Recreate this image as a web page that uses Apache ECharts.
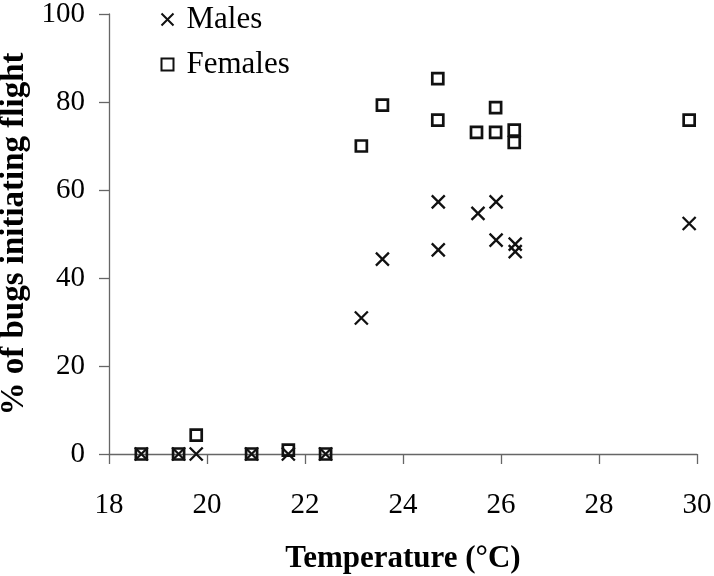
<!DOCTYPE html>
<html>
<head>
<meta charset="utf-8">
<script src="https://cdn.jsdelivr.net/npm/echarts@6/dist/echarts.min.js"></script>
<style>html,body{margin:0;padding:0;background:#fff}#c{width:714px;height:576px}</style>
</head>
<body>
<div id="c"></div>
<script>
var xTicks = [18, 20, 22, 24, 26, 28, 30];
var yTicks = [0, 20, 40, 60, 80, 100];
var maleTemp = [18.66, 19.42, 19.78, 20.91, 21.66, 22.42, 23.15, 23.58, 24.72, 24.72, 25.53, 25.9, 25.9, 26.29, 26.29, 29.84];
var malePct = [0, 0, 0, 0, 0, 0, 30.9, 44.3, 57.3, 46.4, 54.7, 57.3, 48.6, 47.7, 46.0, 52.4];
var femaleTemp = [18.66, 19.42, 19.78, 20.91, 21.66, 22.42, 23.15, 23.58, 24.71, 24.71, 25.5, 25.89, 25.89, 26.27, 26.27, 29.84];
var femalePct = [0, 0, 4.3, 0, 0.9, 0, 70, 79.3, 85.3, 75.9, 73.1, 73.1, 78.7, 73.6, 70.8, 75.9];

function pairs(xs, ys) { return xs.map(function (x, i) { return [x, ys[i]]; }); }

var FONT = 'Liberation Serif';
var CROSS = 'path://M0,0L10,10M0,10L10,0';

var chart = echarts.init(document.getElementById('c'), null, { renderer: 'canvas' });
chart.setOption({
  backgroundColor: '#ffffff',
  animation: false,
  grid: { left: 109, right: 17, top: 14, bottom: 122, containLabel: false, outerBoundsMode: 'none' },
  legend: {
    orient: 'vertical',
    left: 159,
    top: 4,
    padding: 0,
    itemGap: 14,
    itemWidth: 12,
    itemHeight: 12,
    textStyle: { fontFamily: FONT, fontSize: 31, color: '#000', padding: [0, 0, 0, 8], lineHeight: 31 },
    data: [
      { name: 'Males', icon: CROSS, itemStyle: { color: 'none', borderColor: '#111', borderWidth: 2 } },
      { name: 'Females', icon: 'rect', itemStyle: { color: 'none', borderColor: '#111', borderWidth: 2 } }
    ]
  },
  xAxis: {
    type: 'value',
    min: xTicks[0],
    max: xTicks[xTicks.length - 1],
    interval: 2,
    name: 'Temperature (°C)',
    nameLocation: 'middle',
    nameGap: 89,
    nameTextStyle: { fontFamily: FONT, fontSize: 31, fontWeight: 'bold', color: '#000' },
    axisLine: { show: true, onZero: false, lineStyle: { color: '#666', width: 1.3 } },
    axisTick: { show: true, length: 10, lineStyle: { color: '#666', width: 1.3 } },
    axisLabel: { fontFamily: FONT, fontSize: 29, color: '#000', margin: 37 },
    splitLine: { show: false }
  },
  yAxis: {
    type: 'value',
    min: yTicks[0],
    max: yTicks[yTicks.length - 1],
    interval: 20,
    name: '% of bugs initiating flight',
    nameLocation: 'middle',
    nameGap: 73,
    nameRotate: 90,
    nameTextStyle: { fontFamily: FONT, fontSize: 33, fontWeight: 'bold', color: '#000' },
    axisLine: { show: true, onZero: false, lineStyle: { color: '#666', width: 1.3 } },
    axisTick: { show: true, length: 10, lineStyle: { color: '#666', width: 1.3 } },
    axisLabel: { fontFamily: FONT, fontSize: 29, color: '#000', margin: 24 },
    splitLine: { show: false }
  },
  series: [
    {
      name: 'Males',
      type: 'scatter',
      symbol: CROSS,
      symbolSize: 13,
      itemStyle: { color: 'none', borderColor: '#111', borderWidth: 2.3, opacity: 1 },
      data: pairs(maleTemp, malePct)
    },
    {
      name: 'Females',
      type: 'scatter',
      symbol: 'rect',
      symbolSize: 11,
      itemStyle: { color: 'none', borderColor: '#111', borderWidth: 2.7, opacity: 1 },
      data: pairs(femaleTemp, femalePct)
    }
  ]
});
</script>
</body>
</html>
